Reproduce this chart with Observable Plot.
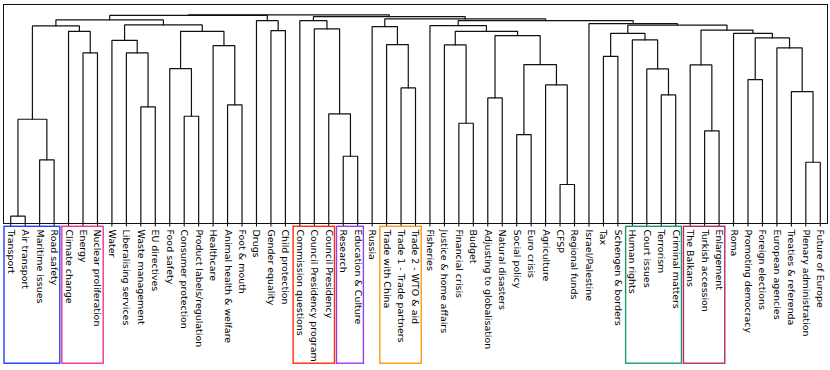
<!DOCTYPE html>
<html><head><meta charset="utf-8">
<script src="https://cdn.jsdelivr.net/npm/d3@7"></script>
<script src="https://cdn.jsdelivr.net/npm/@observablehq/plot@0.6"></script>
<style>
html,body{margin:0;padding:0;background:#fff;}
#chart{width:830px;height:370px;overflow:hidden;}
</style></head><body><div id="chart"></div>
<script>
// Leaf labels, in dendrogram order (left to right)
const leaves = [
  "Transport","Air transport","Maritime issues","Road safety","Climate change","Energy",
  "Nuclear proliferation","Water","Liberalising services","Waste management","EU directives",
  "Food safety","Consumer protection","Product labels/regulation","Healthcare",
  "Animal health & welfare","Foot & mouth","Drugs","Gender equality","Child protection",
  "Commission questions","Council Presidency program","Council Presidency","Research",
  "Education & Culture","Russia","Trade with China","Trade 1 - Trade partners",
  "Trade 2 - WTO & aid","Fisheries","Justice & home affairs","Financial crisis","Budget",
  "Adjusting to globalisation","Natural disasters","Social policy","Euro crisis","Agriculture",
  "CFSP","Regional funds","Israel/Palestine","Tax","Schengen & borders","Human rights",
  "Court issues","Terrorism","Criminal matters","The Balkans","Turkish accession",
  "Enlargement","Roma","Promoting democracy","Foreign elections","European agencies",
  "Treaties & referenda","Plenary administration","Future of Europe"
];

// Linkage: [child A, child B, merge height]; ids < 57 are leaves, id 57+k is merge k
const mergeA = [0,2,57,5,4,59,9,8,7,12,11,15,14,67,65,62,18,17,72,23,22,21,20,27,26,25,31,30,33,35,38,37,86,85,84,29,41,45,44,43,93,48,47,51,55,54,53,100,50,99,97,40,92,82,79,75];
const mergeB = [1,3,58,6,60,61,10,63,64,13,66,16,68,69,70,71,19,73,74,24,76,77,78,28,80,81,32,83,34,36,39,87,88,89,90,91,42,46,94,95,96,49,98,52,56,101,102,103,104,105,106,107,108,109,110,111];
const mergeH = [7.3,63.7,104.3,170.7,192.3,197.7,116.7,170.7,183.3,107.3,155,118.7,178,192.3,198.7,203.7,193,203,208.2,67.3,109.7,194.7,203,135.7,179,197,100.3,178.7,125.7,89,39,138.7,159,188,192.3,198,167.3,128.7,154.7,183.7,190.3,92.7,158.7,144,61.3,132,175.7,185.7,190.3,193.5,198.5,200,203,204.7,207,208.7];

// Highlight boxes around label groups
const boxFirst = [0, 4, 20, 23, 26, 43, 47];
const boxLast  = [3, 6, 22, 24, 28, 46, 49];
const boxColor = ["#1f3fff", "#f0358f", "#ff2a10", "#9b3cf5", "#ff9a10", "#1f9a62", "#b32a66"];

const n = leaves.length;
const nodeX = leaves.map((_, i) => i);
const nodeH = leaves.map(() => 0);
const pts = [];
mergeA.forEach((a, k) => {
  const b = mergeB[k], h = mergeH[k];
  const xa = nodeX[a], xb = nodeX[b];
  pts.push({id: k, x: xa, y: nodeH[a]}, {id: k, x: xa, y: h}, {id: k, x: xb, y: h}, {id: k, x: xb, y: nodeH[b]});
  nodeX.push((xa + xb) / 2);
  nodeH.push(h);
});
const boxes = boxFirst.map((f, i) => ({first: f, last: boxLast[i], color: boxColor[i]}));
const maxH = d3.max(mergeH);

const chart = Plot.plot({
  width: 830, height: 370,
  marginLeft: 3, marginRight: 3, marginTop: 4, marginBottom: 147,
  x: {domain: [-0.5, n - 0.5]},
  y: {domain: [0, maxH * 1.05], axis: null},
  color: {type: "identity"},
  style: {fontFamily: "DejaVu Sans", background: "white", color: "black"},
  marks: [
    Plot.frame({stroke: "#111", strokeWidth: 1}),
    Plot.line(pts, {x: "x", y: "y", z: "id", stroke: "#111", strokeWidth: 1.2, strokeLinejoin: "miter"}),
    Plot.axisX({ticks: d3.range(n), tickFormat: i => leaves[i], tickRotate: 90, tickSize: 3.5, tickPadding: 2.5, fontSize: 9.45, label: null, fill: "black", stroke: "black"}),
    Plot.rect(boxes, {x1: d => d.first - 0.43, x2: d => d.last + 0.43, y1: -3.3, y2: -140.3, stroke: "color", fill: "none", strokeWidth: 1.4, clip: false})
  ]
});
document.getElementById("chart").appendChild(chart);
</script>
</body></html>
